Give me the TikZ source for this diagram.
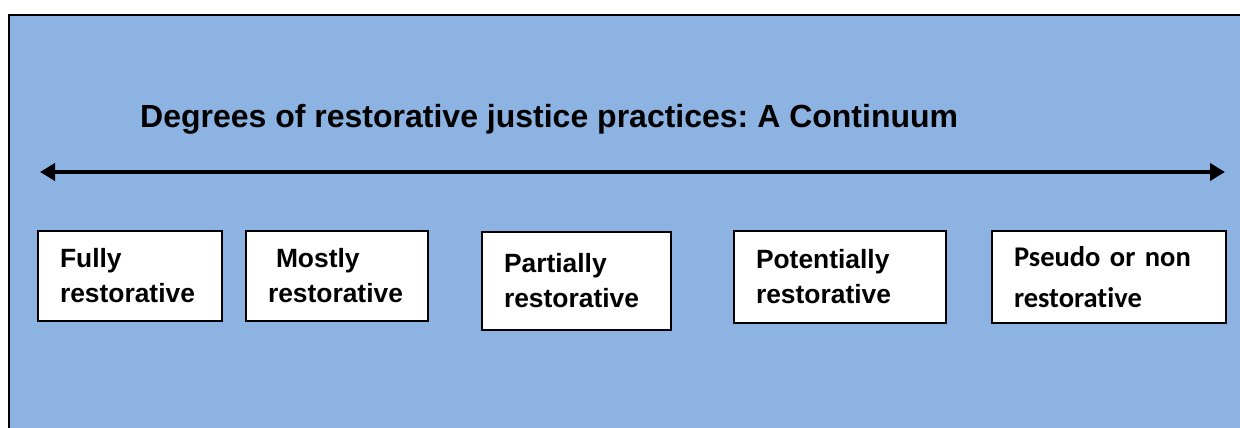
\documentclass[tikz,border=0pt]{standalone}
\usepackage{fontspec}
\setmainfont{Liberation Sans}
\newfontfamily\calibrifont[Ligatures={NoCommon,NoDiscretionary,NoContextual}]{Carlito}
\usetikzlibrary{arrows.meta}
\definecolor{panelblue}{RGB}{141,179,226}
\frenchspacing
\tikzset{
  stagebox/.style={draw=black, line width=1.6pt, fill=white, inner xsep=22pt,
    inner ysep=0pt, align=left, anchor=center},
  armfont/.style={font=\bfseries\fontsize{26.4}{35}\selectfont},
  calfont/.style={font=\calibrifont\bfseries\fontsize{28.5}{41}\selectfont},
}
\begin{document}
\begin{tikzpicture}[x=1pt, y=-1pt]
  \useasboundingbox (0,0) rectangle (1240,428);
  % background panel with its top and left rules
  \fill[panelblue] (9,15) rectangle (1240,428);
  \draw[line width=2.2pt] (9,428) -- (9,15) -- (1240,15);

  % heading
  \node[anchor=base west, inner sep=0pt, font=\bfseries\fontsize{32}{38}\selectfont]
    (title) at (140,127) {Degrees of restorative justice practices: A Continuum};

  % continuum axis
  \coordinate (axisL) at (40,172);
  \coordinate (axisR) at (1225,172);
  \draw[line width=4pt, {Triangle[length=15pt,width=17pt]}-{Triangle[length=15pt,width=17pt]}]
    (axisL) -- (axisR);

  % stages along the continuum
  \node[stagebox, armfont, text width=140pt, minimum height=90pt] (fully) at (130,276)
    {Fully\\restorative};
  \node[stagebox, armfont, text width=138pt, minimum height=90pt] (mostly) at (337,276)
    {\hspace*{8pt}Mostly\\restorative};
  \node[stagebox, armfont, text width=145pt, minimum height=98pt] (partially) at (576.5,281)
    {Partially\\restorative};
  \node[stagebox, armfont, text width=168pt, minimum height=92pt] (potentially) at (840,277)
    {Potentially\\restorative};
  \node[stagebox, calfont, text width=190pt, minimum height=92pt] (pseudo) at (1109,277)
    {Pseudo or non\\restorative};
\end{tikzpicture}
\end{document}
